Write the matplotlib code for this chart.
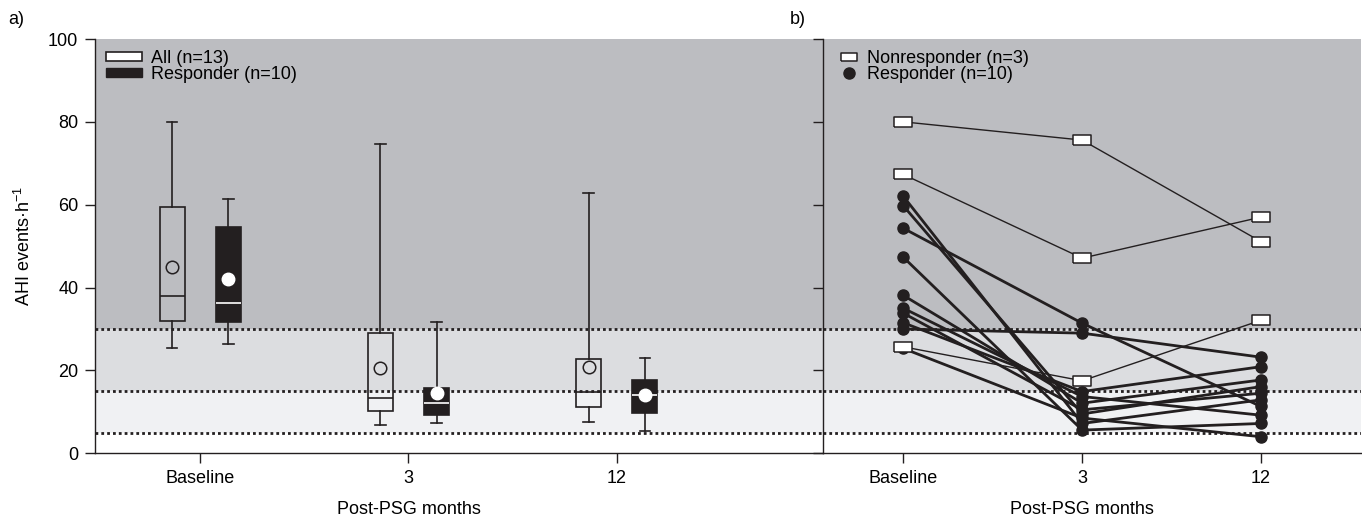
import numpy as np
import matplotlib.pyplot as plt
from matplotlib.patches import Patch
from matplotlib.lines import Line2D

plt.rcParams['font.family'] = ['Liberation Sans', 'DejaVu Sans']
plt.rcParams['mathtext.default'] = 'regular'
plt.rcParams['font.size'] = 13

visits = ["Baseline", "3", "12"]

# panel a: box statistics
all_whislo = [25.3, 6.8, 7.6]
all_q1 = [32.0, 10.3, 11.2]
all_med = [38.0, 13.4, 14.8]
all_q3 = [59.4, 29.0, 22.7]
all_whishi = [80.0, 74.7, 62.8]
all_mean = [45.0, 20.5, 20.9]

resp_whislo = [26.5, 7.4, 5.5]
resp_q1 = [31.8, 9.2, 9.7]
resp_med = [36.2, 12.2, 14.1]
resp_q3 = [54.7, 15.7, 17.7]
resp_whishi = [61.5, 31.8, 22.9]
resp_mean = [42.1, 14.5, 14.1]

# panel b: single patients
nonresp_base = [80.0, 67.3, 25.7]
nonresp_3m = [75.6, 47.1, 17.5]
nonresp_12m = [51.1, 57.0, 32.1]

resp_base = [62.0, 59.7, 54.3, 47.3, 38.1, 35.0, 33.8, 31.5, 30.0, 25.3]
resp_3m = [7.2, 9.5, 31.4, 5.6, 12.1, 13.7, 10.5, 14.9, 29.0, 8.5]
resp_12m = [12.9, 16.1, 11.3, 7.2, 17.7, 9.2, 14.5, 20.9, 23.2, 4.0]

thresholds = [30, 15, 5]
band_colors = ['#bcbdc1', '#dcdde0', '#f0f1f3']
ink = '#231f20'

fig = plt.figure(figsize=(13.62, 5.21), dpi=100)
W, H = 1362.0, 521.0
y0 = (H - 453.3) / H
h = (453.3 - 39) / H
ax1 = fig.add_axes([95 / W, y0, 728 / W, h])
ax2 = fig.add_axes([823 / W, y0, 538 / W, h])

xpos = np.arange(1, 4)


def background(ax):
    edges = [100] + thresholds
    for i in range(3):
        ax.axhspan(edges[i + 1], edges[i], color=band_colors[i], lw=0, zorder=0)
    for t in thresholds:
        ax.axhline(t, color=ink, ls=(0, (1, 1.1)), lw=2, zorder=1)
    ax.set_ylim(0, 100)
    ax.set_yticks([0, 20, 40, 60, 80, 100])
    ax.set_xticks(xpos)
    ax.set_xticklabels(visits)
    for s in ['top', 'right']:
        ax.spines[s].set_visible(False)
    for s in ['left', 'bottom']:
        ax.spines[s].set_color(ink)
        ax.spines[s].set_linewidth(1)
    ax.tick_params(direction='out', length=7, width=1, color=ink, pad=5)
    ax.set_xlabel('Post-PSG months')


background(ax1)
background(ax2)

# panel a
ax1.set_xlim(0.495, 3.99)
off = 0.135
all_stats = [dict(whislo=all_whislo[i], q1=all_q1[i], med=all_med[i], q3=all_q3[i],
                  whishi=all_whishi[i], mean=all_mean[i]) for i in range(3)]
resp_stats = [dict(whislo=resp_whislo[i], q1=resp_q1[i], med=resp_med[i], q3=resp_q3[i],
                   whishi=resp_whishi[i], mean=resp_mean[i]) for i in range(3)]

ax1.bxp(all_stats, positions=xpos - off, widths=0.12, capwidths=0.05, patch_artist=True,
        showmeans=True, showfliers=False, manage_ticks=False,
        boxprops=dict(facecolor='none', edgecolor=ink, lw=1.2),
        medianprops=dict(color=ink, lw=1.2),
        whiskerprops=dict(color=ink, lw=1.2), capprops=dict(color=ink, lw=1.2),
        meanprops=dict(marker='o', markerfacecolor='none', markeredgecolor=ink,
                       markersize=9, markeredgewidth=1.1),
        zorder=3)
ax1.bxp(resp_stats, positions=xpos + off, widths=0.12, capwidths=0.05, patch_artist=True,
        showmeans=True, showfliers=False, manage_ticks=False,
        boxprops=dict(facecolor=ink, edgecolor=ink, lw=1.2),
        medianprops=dict(color='white', lw=1.2),
        whiskerprops=dict(color=ink, lw=1.2), capprops=dict(color=ink, lw=1.2),
        meanprops=dict(marker='o', markerfacecolor='white', markeredgecolor='white',
                       markersize=9),
        zorder=3)
ax1.set_ylabel('AHI events·h$^{-1}$', labelpad=10)
ax1.xaxis.set_label_coords((2 - 0.495) / (3.99 - 0.495), -0.115)

ax1.legend([Patch(facecolor='white', edgecolor=ink, lw=1.2), Patch(facecolor=ink, edgecolor=ink)],
           ['All (n=13)', 'Responder (n=10)'], loc='upper left', frameon=False,
           handlelength=2.0, handleheight=0.45, labelspacing=-0.05, handletextpad=0.5,
           borderaxespad=0.2, bbox_to_anchor=(0.0, 1.0))

# panel b
ax2.set_xlim(0.55, 3.56)
ax2.tick_params(axis='y', labelleft=False)
ax2.xaxis.set_label_coords((2 - 0.55) / (3.56 - 0.55), -0.115)
rect = [(-2, -1), (2, -1), (2, 1), (-2, 1), (-2, -1)]
for i in range(len(resp_base)):
    ax2.plot(xpos, [resp_base[i], resp_3m[i], resp_12m[i]], color=ink, lw=2,
             marker='o', markersize=8, markerfacecolor=ink, markeredgecolor=ink, zorder=3)
for i in range(len(nonresp_base)):
    ax2.plot(xpos, [nonresp_base[i], nonresp_3m[i], nonresp_12m[i]], color=ink, lw=1,
             marker=rect, markersize=13, markerfacecolor='white', markeredgecolor=ink,
             markeredgewidth=1.1, zorder=4)

ax2.legend([Line2D([], [], ls='none', marker=rect, markersize=11, markerfacecolor='white',
                   markeredgecolor=ink, markeredgewidth=1.1),
            Line2D([], [], ls='none', marker='o', markersize=8, color=ink)],
           ['Nonresponder (n=3)', 'Responder (n=10)'], loc='upper left', frameon=False,
           handlelength=1.0, labelspacing=-0.05, handletextpad=0.5,
           borderaxespad=0.2, bbox_to_anchor=(0.012, 1.0))

fig.text(8 / W, 1 - 20 / H, 'a)', fontsize=13, va='center')
fig.text(790 / W, 1 - 20 / H, 'b)', fontsize=13, va='center')

fig.savefig('out.png', dpi=100)
